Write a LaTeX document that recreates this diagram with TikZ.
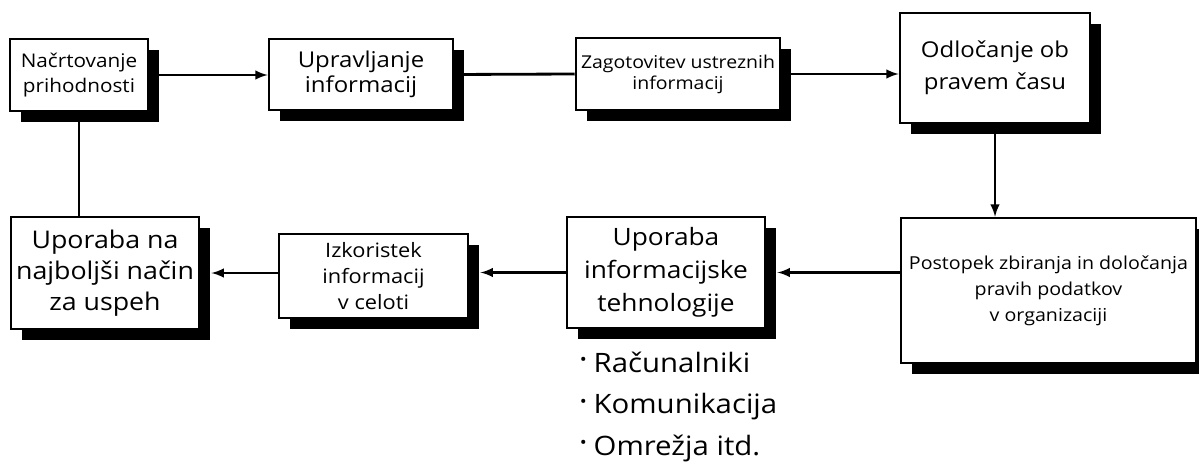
\documentclass[tikz,border=0pt]{standalone}
\usepackage{fontspec}
\setmainfont{Open Sans}[FakeStretch=1.1]
\usetikzlibrary{arrows,shadows,calc}

\newcommand{\itembullet}{\raisebox{0.45ex}{\fontsize{12}{12}\selectfont\textbullet}\hspace{0.25em}}

\begin{document}
\begin{tikzpicture}[
		box/.style={draw=black,line width=1.8pt,fill=white,align=center,inner sep=0pt,
			drop shadow={shadow xshift=0.28cm,shadow yshift=-0.28cm,fill=black,opacity=1}},
		link/.style={line width=2pt,-latex}
	]

		\useasboundingbox (0,0) rectangle (29.975,11.6);

		% top row
		\node[box,font=\fontsize{13.4}{17.8}\selectfont,minimum width=3.45cm,minimum height=1.8cm] (Plan) at (1.975,9.725) {Načrtovanje\\prihodnosti};
		\node[box,font=\fontsize{15.5}{17.8}\selectfont,minimum width=4.6cm,minimum height=1.775cm] (Manage) at (9.025,9.7375) {Upravljanje\\informacij};
		\node[box,font=\fontsize{12.6}{15}\selectfont,minimum width=5.1cm,minimum height=1.8cm] (Supply) at (16.95,9.75) {Zagotovitev ustreznih\\informacij};
		\node[box,font=\fontsize{15.5}{22.8}\selectfont,minimum width=4.75cm,minimum height=2.75cm] (Decide) at (24.875,9.9) {Odločanje ob\\pravem času};

		% bottom row
		\node[box,font=\fontsize{12.7}{18.5}\selectfont,minimum width=7.375cm,minimum height=3.625cm] (Collect) at (26.2125,4.3375) {Postopek zbiranja in določanja\\pravih podatkov\\v organizaciji};
		\node[box,font=\fontsize{17}{23.5}\selectfont,minimum width=4.95cm,minimum height=2.775cm] (Tech) at (16.65,4.7875) {Uporaba\\informacijske\\tehnologije};
		\node[box,font=\fontsize{14.1}{18.5}\selectfont,minimum width=4.725cm,minimum height=2.1cm] (Use) at (9.3375,4.7) {Izkoristek\\informacij\\v celoti};
		\node[box,font=\fontsize{17.3}{22}\selectfont,minimum width=4.7cm,minimum height=2.8cm] (Best) at (2.625,4.775) {Uporaba na\\najboljši način\\za uspeh};

		% list below the technology box
		\node[font=\fontsize{19}{22}\selectfont,anchor=west] (Comp) at (14.375,2.55) {\itembullet Računalniki};
		\node[font=\fontsize{19}{22}\selectfont,anchor=west] (Comm) at (14.375,1.425) {\itembullet Komunikacija};
		\node[font=\fontsize{19}{22}\selectfont,anchor=west] (Net) at (14.375,0.4) {\itembullet Omrežja itd.};

		\draw[link] (Plan.east) -- (Plan.east -| Manage.west);
		\draw[line width=2pt] (Manage.east) -- (Supply.west);
		\draw[link] (Supply.east) -- (Supply.east -| Decide.west);
		\draw[link] (Decide.south) -- (Decide.south |- Collect.north);
		\draw[link,shorten >=0.28cm] (Tech.east -| Collect.west) -- (Tech.east);
		\draw[link,shorten >=0.28cm] (Tech.west) -- (Tech.west -| Use.east);
		\draw[link,shorten >=0.28cm] (Best.east -| Use.west) -- (Best.east);
		\draw[line width=2pt] (Plan.south |- Best.north) -- (Plan.south);
	\end{tikzpicture}
\end{document}
